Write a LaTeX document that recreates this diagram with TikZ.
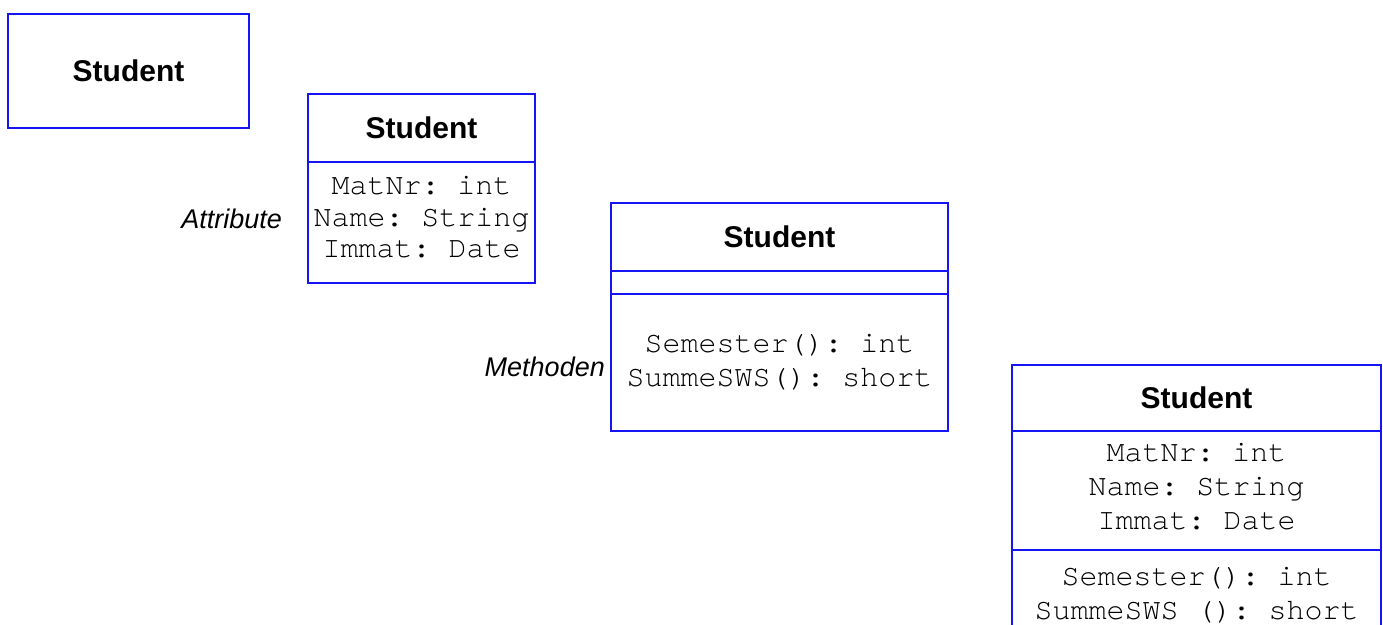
\documentclass[tikz,border=0pt]{standalone}
\usepackage{fontspec}
\setmainfont{Liberation Sans}
\setmonofont{TeX Gyre Cursor}
\usetikzlibrary{positioning}
\definecolor{umlblue}{RGB}{20,20,245}
\frenchspacing
\tikzset{
  cls/.style={draw=umlblue, line width=2pt, rectangle, outer sep=0pt, inner sep=0pt, align=center},
  cname/.style={cls, font=\fontsize{30}{34}\selectfont\bfseries},
  cbody/.style={cls, font=\fontsize{30}{34}\selectfont\ttfamily},
  ctext/.style={inner sep=0pt, align=center, font=\fontsize{30}{34}\selectfont\ttfamily},
  note/.style={inner sep=0pt, font=\fontsize{27}{30}\selectfont\itshape}
}

\begin{document}
\begin{tikzpicture}[x=1pt, y=-1pt]
\useasboundingbox (0,0) rectangle (1383,624);
% class name only
\node[cname, minimum width=241pt, minimum height=114pt] (s1) at (128.5,71) {Student};
% class with attributes
\node[cname, minimum width=227pt, minimum height=68pt] (t2) at (421.5,128) {Student};
\node[cbody, minimum width=227pt, minimum height=121pt, below=0pt of t2] (a2) {};
\node[ctext, font=\fontsize{30}{31.5}\selectfont\ttfamily] (a2t) at ([yshift=5pt]a2.center) {MatNr: int\\Name: String\\Immat: Date};
\node[note, left=26pt of a2, yshift=4pt] (la) {Attribute};
% class with methods
\node[cname, minimum width=337pt, minimum height=68pt] (t3) at (779.5,237) {Student};
\node[cbody, minimum width=337pt, minimum height=23pt, below=0pt of t3] (e3) {};
\node[cbody, minimum width=337pt, minimum height=137pt, below=0pt of e3] (m3) {Semester(): int\\SummeSWS(): short};
\node[note, left=6pt of m3, yshift=-4pt] (lm) {Methoden};
% full class
\node[cname, minimum width=369pt, minimum height=66pt] (t4) at (1196.5,398) {Student};
\node[cbody, minimum width=369pt, minimum height=119pt, below=0pt of t4] (a4) {};
\node[ctext] (a4t) at ([yshift=4pt]a4.center) {MatNr: int\\Name: String\\Immat: Date};
\node[cbody, minimum width=369pt, minimum height=90pt, below=0pt of a4] (m4) {Semester(): int\\SummeSWS (): short};
\end{tikzpicture}
\end{document}
